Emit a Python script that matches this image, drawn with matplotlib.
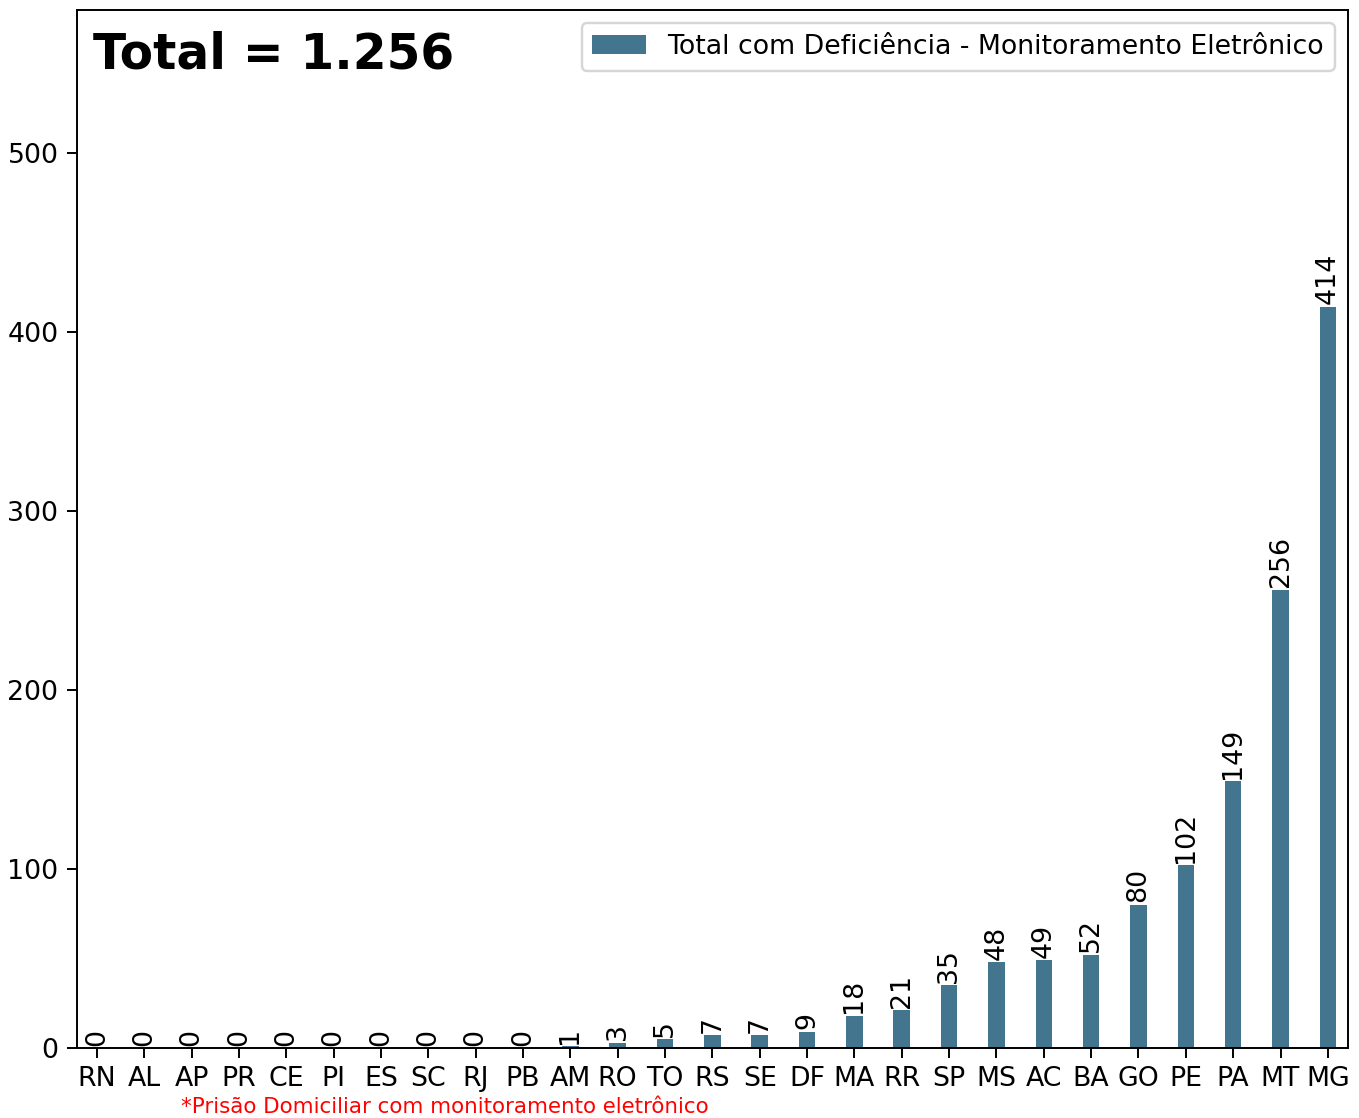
import matplotlib.pyplot as plt
import numpy as np

# states, ordered by value
states = ["RN", "AL", "AP", "PR", "CE", "PI", "ES", "SC", "RJ", "PB",
          "AM", "RO", "TO", "RS", "SE", "DF", "MA", "RR", "SP", "MS",
          "AC", "BA", "GO", "PE", "PA", "MT", "MG"]
values = [0, 0, 0, 0, 0, 0, 0, 0, 0, 0,
          1, 3, 5, 7, 7, 9, 18, 21, 35, 48,
          49, 52, 80, 102, 149, 256, 414]
legend_label = "Total com Deficiência - Monitoramento Eletrônico"
footnote = "*Prisão Domiciliar com monitoramento eletrônico"

dpi = 175
fig = plt.figure(figsize=(1359 / dpi, 1118 / dpi), dpi=dpi)
ax = fig.add_axes([76.7 / 1359, 70 / 1118, (1348 - 76.7) / 1359, 1038 / 1118])

x = np.arange(len(states))
bars = ax.bar(x, values, width=0.35, color="#44758f", label=legend_label)
ax.bar_label(bars, labels=[str(v) for v in values], rotation=90, padding=1,
             fontsize=11)

ax.set_xticks(x)
ax.set_xticklabels(states)
ax.set_xlim(-0.425, len(states) - 1 + 0.425)
ax.set_ylim(0, max(values) * 1.4)
ax.tick_params(labelsize=11, length=4)

ax.legend(loc="upper right", fontsize=11)
ax.text(0.0128, 0.944, "Total = %s" % format(sum(values), ",").replace(",", "."),
        transform=ax.transAxes, fontsize=20, fontweight="bold", va="baseline")
ax.text(0.082, -0.0626, footnote, transform=ax.transAxes, color="red",
        fontsize=8.8, va="baseline")

fig.savefig("out.png", dpi=dpi)
